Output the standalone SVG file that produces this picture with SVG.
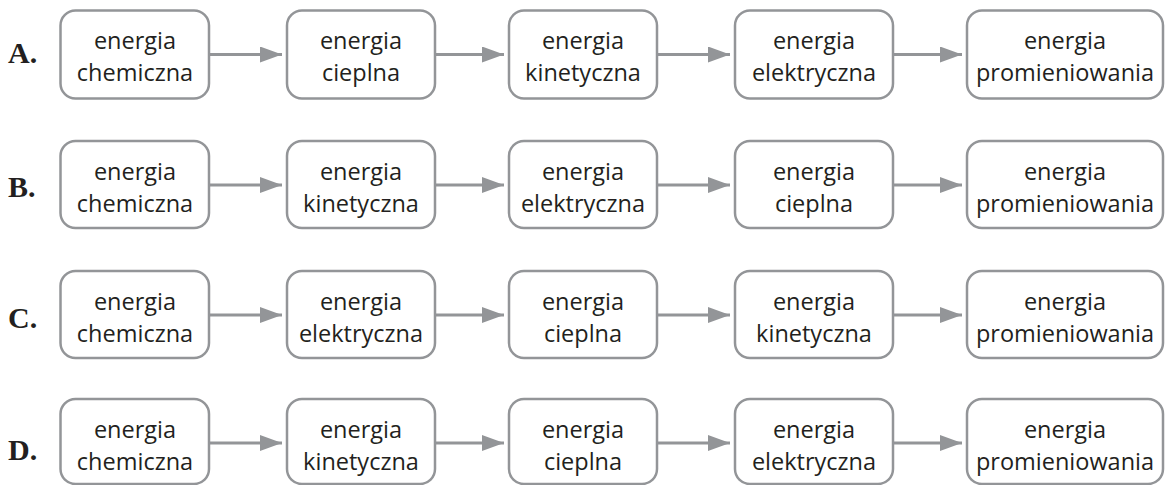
<svg xmlns="http://www.w3.org/2000/svg" width="1168" height="485" viewBox="0 0 1168 485">
<style>
.box{fill:#fff;stroke:#939598;stroke-width:2.5}
.t{font-family:"Open Sans","Liberation Sans",sans-serif;font-size:23.5px;fill:#231f20;text-anchor:middle}
.lbl{font-family:"Liberation Serif",serif;font-size:30px;font-weight:bold;fill:#231f20}
.c{stroke:#939598;stroke-width:3;fill:none;marker-end:url(#ah)}
</style>
<defs>
<marker id="ah" markerUnits="userSpaceOnUse" markerWidth="24" markerHeight="18" refX="22" refY="8" orient="auto">
<path d="M0,0 L22,8 L0,16 Z" fill="#939598"/>
</marker>
</defs>
<g id="labels">
<text class="lbl" x="8" y="63">A.</text>
<text class="lbl" x="8" y="197">B.</text>
<text class="lbl" x="8" y="328">C.</text>
<text class="lbl" x="8" y="460">D.</text>
</g>
<g id="connectors">
<path class="c" d="M209,54.5 H282"/><path class="c" d="M435,54.5 H504"/><path class="c" d="M657,54.5 H730"/><path class="c" d="M893,54.5 H962"/>
<path class="c" d="M209,185 H282"/><path class="c" d="M435,185 H504"/><path class="c" d="M657,185 H730"/><path class="c" d="M893,185 H962"/>
<path class="c" d="M209,315 H282"/><path class="c" d="M435,315 H504"/><path class="c" d="M657,315 H730"/><path class="c" d="M893,315 H962"/>
<path class="c" d="M209,443 H282"/><path class="c" d="M435,443 H504"/><path class="c" d="M657,443 H730"/><path class="c" d="M893,443 H962"/>
</g>
<g id="A1"><rect class="box" x="60.5" y="10.5" width="148.5" height="88" rx="15"/><text class="t" x="135" y="49">energia</text><text class="t" x="135" y="81">chemiczna</text></g>
<g id="A2"><rect class="box" x="287" y="10.5" width="148" height="88" rx="15"/><text class="t" x="361" y="49">energia</text><text class="t" x="361" y="81">cieplna</text></g>
<g id="A3"><rect class="box" x="509" y="10.5" width="148" height="88" rx="15"/><text class="t" x="583" y="49">energia</text><text class="t" x="583" y="81">kinetyczna</text></g>
<g id="A4"><rect class="box" x="735" y="10.5" width="158" height="88" rx="15"/><text class="t" x="814" y="49">energia</text><text class="t" x="814" y="81">elektryczna</text></g>
<g id="A5"><rect class="box" x="967" y="10.5" width="196" height="88" rx="15"/><text class="t" x="1065" y="49">energia</text><text class="t" x="1065" y="81">promieniowania</text></g>

<g id="B1"><rect class="box" x="60.5" y="141" width="148.5" height="87" rx="15"/><text class="t" x="135" y="179.5">energia</text><text class="t" x="135" y="211.5">chemiczna</text></g>
<g id="B2"><rect class="box" x="287" y="141" width="148" height="87" rx="15"/><text class="t" x="361" y="179.5">energia</text><text class="t" x="361" y="211.5">kinetyczna</text></g>
<g id="B3"><rect class="box" x="509" y="141" width="148" height="87" rx="15"/><text class="t" x="583" y="179.5">energia</text><text class="t" x="583" y="211.5">elektryczna</text></g>
<g id="B4"><rect class="box" x="735" y="141" width="158" height="87" rx="15"/><text class="t" x="814" y="179.5">energia</text><text class="t" x="814" y="211.5">cieplna</text></g>
<g id="B5"><rect class="box" x="967" y="141" width="196" height="87" rx="15"/><text class="t" x="1065" y="179.5">energia</text><text class="t" x="1065" y="211.5">promieniowania</text></g>

<g id="C1"><rect class="box" x="60.5" y="271" width="148.5" height="87" rx="15"/><text class="t" x="135" y="309.5">energia</text><text class="t" x="135" y="341.5">chemiczna</text></g>
<g id="C2"><rect class="box" x="287" y="271" width="148" height="87" rx="15"/><text class="t" x="361" y="309.5">energia</text><text class="t" x="361" y="341.5">elektryczna</text></g>
<g id="C3"><rect class="box" x="509" y="271" width="148" height="87" rx="15"/><text class="t" x="583" y="309.5">energia</text><text class="t" x="583" y="341.5">cieplna</text></g>
<g id="C4"><rect class="box" x="735" y="271" width="158" height="87" rx="15"/><text class="t" x="814" y="309.5">energia</text><text class="t" x="814" y="341.5">kinetyczna</text></g>
<g id="C5"><rect class="box" x="967" y="271" width="196" height="87" rx="15"/><text class="t" x="1065" y="309.5">energia</text><text class="t" x="1065" y="341.5">promieniowania</text></g>

<g id="D1"><rect class="box" x="60.5" y="399" width="148.5" height="85" rx="15"/><text class="t" x="135" y="437.5">energia</text><text class="t" x="135" y="469.5">chemiczna</text></g>
<g id="D2"><rect class="box" x="287" y="399" width="148" height="85" rx="15"/><text class="t" x="361" y="437.5">energia</text><text class="t" x="361" y="469.5">kinetyczna</text></g>
<g id="D3"><rect class="box" x="509" y="399" width="148" height="85" rx="15"/><text class="t" x="583" y="437.5">energia</text><text class="t" x="583" y="469.5">cieplna</text></g>
<g id="D4"><rect class="box" x="735" y="399" width="158" height="85" rx="15"/><text class="t" x="814" y="437.5">energia</text><text class="t" x="814" y="469.5">elektryczna</text></g>
<g id="D5"><rect class="box" x="967" y="399" width="196" height="85" rx="15"/><text class="t" x="1065" y="437.5">energia</text><text class="t" x="1065" y="469.5">promieniowania</text></g>
</svg>
